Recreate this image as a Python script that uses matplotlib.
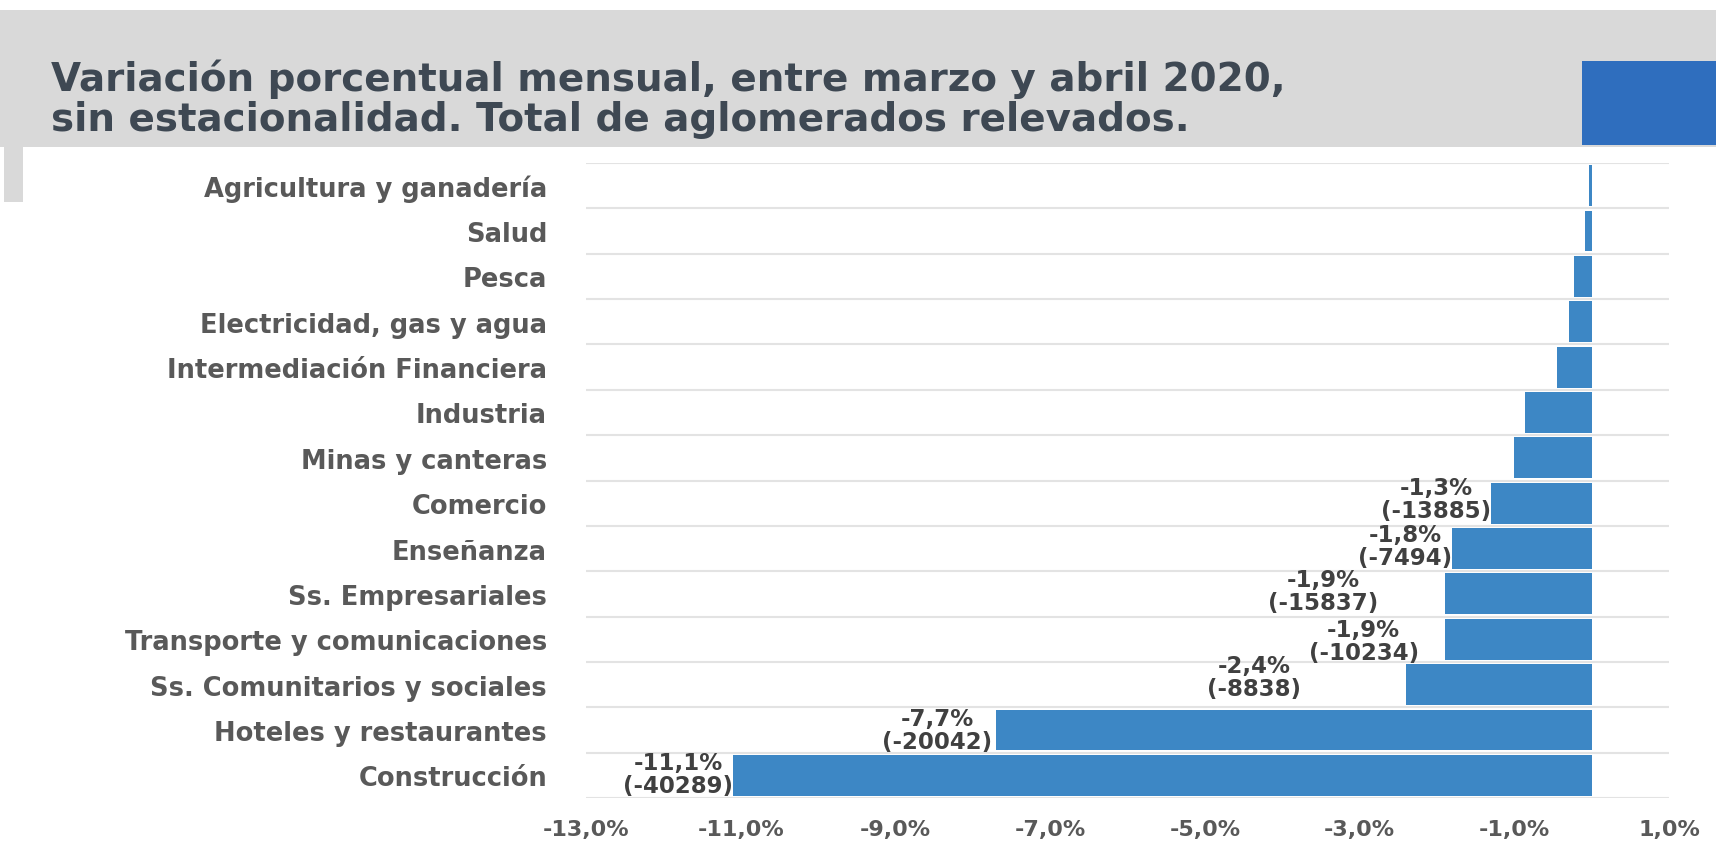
import numpy as np
import matplotlib
matplotlib.use('agg')
import matplotlib.pyplot as plt
from matplotlib.patches import Rectangle
from matplotlib.ticker import FuncFormatter, FixedLocator

# data (top to bottom as in the chart)
sectors = ["Agricultura y ganadería", "Salud", "Pesca", "Electricidad, gas y agua",
           "Intermediación Financiera", "Industria", "Minas y canteras", "Comercio",
           "Enseñanza", "Ss. Empresariales", "Transporte y comunicaciones",
           "Ss. Comunitarios y sociales", "Hoteles y restaurantes", "Construcción"]
variation_pct = [-0.04, -0.09, -0.23, -0.29, -0.45, -0.86, -1.0, -1.3,
                 -1.8, -1.9, -1.9, -2.4, -7.7, -11.1]
jobs_change = [None, None, None, None, None, None, None, -13885,
               -7494, -15837, -10234, -8838, -20042, -40289]
x_ticks = [-13, -11, -9, -7, -5, -3, -1, 1]

title = ("Variación porcentual mensual, entre marzo y abril 2020,\n"
         "sin estacionalidad. Total de aglomerados relevados.")

# label nudges in pixels (dx, dy), the labels were moved by hand in the original
label_nudge = [None, None, None, None, None, None, None, (0, 4),
               (0, 3), (-66, 3), (-26, -2), (-105, 8), (-4, 0), (0, 1)]

W, H = 1716, 845
BAR = '#3d87c5'
GRAY_TXT = '#595959'


def px(x, y, w, h):
    # pixel box (top-left origin) -> figure fraction
    return (x / W, 1 - (y + h) / H, w / W, h / H)


fig = plt.figure(figsize=(W / 100, H / 100), dpi=100)
fig.patch.set_facecolor('white')

# header band and decorations
for box, col in [((0, 11, W, 137), '#d9d9d9'),
                 ((4, 148, 19, 55), '#d9d9d9'),
                 ((1582, 62, 134, 84), '#2f6ebe')]:
    x0, y0, w0, h0 = px(*box)
    fig.add_artist(Rectangle((x0, y0), w0, h0, transform=fig.transFigure,
                             color=col, lw=0, zorder=0))

fig.text(51 / W, 1 - 99 / H, title, ha='left', va='center', fontsize=28,
         fontweight='bold', color='#3e4853', family='DejaVu Sans', linespacing=1.08)

ax = fig.add_axes([586 / W, 1 - 799 / H, (1669 - 586) / W, (799 - 164) / H])
ax.set_facecolor('none')

n = len(sectors)
ypos = np.arange(n)
ax.barh(ypos, variation_pct, height=0.9, color=BAR, zorder=2)
ax.set_ylim(n - 0.5, -0.5)
ax.set_xlim(-13, 1)

ax.set_yticks(ypos)
ax.set_yticklabels(sectors, fontsize=18.5, color=GRAY_TXT, family='DejaVu Sans',
                   fontweight='bold')
ax.yaxis.set_minor_locator(FixedLocator(np.arange(n + 1) - 0.5))
ax.grid(which='minor', axis='y', color='#e3e3e3', lw=1.5, zorder=1)
ax.tick_params(axis='y', which='both', length=0, pad=28)

ax.xaxis.set_major_locator(FixedLocator(x_ticks))
ax.xaxis.set_major_formatter(FuncFormatter(lambda v, p: f"{v:.1f}%".replace('.', ',')))
ax.tick_params(axis='x', length=0, pad=15, labelsize=16, labelcolor=GRAY_TXT)
for lab in ax.get_xticklabels():
    lab.set_family('DejaVu Sans')
    lab.set_fontweight('bold')

for s in ax.spines.values():
    s.set_visible(False)

for i, (v, jc, nd) in enumerate(zip(variation_pct, jobs_change, label_nudge)):
    if jc is None:
        continue
    txt = f"{v:.1f}%".replace('.', ',') + f"\n({jc})"
    ax.annotate(txt, xy=(v, i), xytext=nd, textcoords='offset pixels',
                ha='right', va='center', multialignment='center', fontsize=16.5,
                fontweight='bold', color='#404040', family='DejaVu Sans',
                linespacing=1.0, zorder=3)

fig.savefig('out.png', dpi=100)
